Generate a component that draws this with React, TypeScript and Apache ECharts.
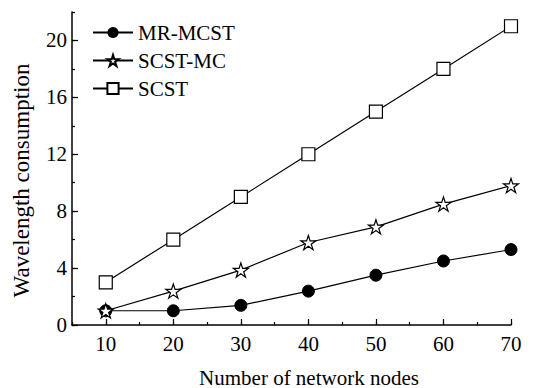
import React, { useEffect, useRef } from "react";
import * as echarts from "echarts";

const xValues = [10, 20, 30, 40, 50, 60, 70];
const mrMcst = [1, 1, 1.38, 2.38, 3.5, 4.5, 5.3];
const scstMc = [1, 2.38, 3.86, 5.8, 6.9, 8.5, 9.8];
const scst = [3, 6, 9, 12, 15, 18, 21];
const xMajorTicks = [10, 20, 30, 40, 50, 60, 70];
const yMajorTicks = [0, 4, 8, 12, 16, 20];

const STAR =
  "path://M50 0 L61.17 34.63 L97.55 34.55 L68.07 55.87 L79.39 90.45 L50 69 L20.61 90.45 L31.93 55.87 L2.45 34.55 L38.83 34.63 Z";

const FONT = "Liberation Serif";

export default function App() {
  const ref = useRef<HTMLDivElement>(null);
  useEffect(() => {
    if (!ref.current) return;
    const chart = echarts.init(ref.current, null, { renderer: "svg" });
    const pair = (arr: number[]) => xValues.map((x, i) => [x, arr[i]]);
    const lineStyle = { color: "#000", width: 1.2 };
    chart.setOption({
      animation: false,
      backgroundColor: "#fff",
      textStyle: { fontFamily: FONT, color: "#000" },
      grid: { left: 72, right: 29, top: 12, bottom: 63, containLabel: false, outerBoundsMode: "none" },
      legend: {
        orient: "vertical",
        left: 87,
        top: 17,
        itemWidth: 40,
        itemHeight: 14,
        itemGap: 7,
        textStyle: { fontFamily: FONT, fontSize: 21, color: "#000" },
        data: ["MR-MCST", "SCST-MC", "SCST"],
      },
      xAxis: [
        {
          type: "value",
          min: 5,
          max: 70,
          interval: 5,
          splitLine: { show: false },
          axisLine: { lineStyle: { color: "#000", width: 1.5 } },
          axisTick: { inside: true, length: 3, lineStyle: { color: "#000", width: 1.2 } },
          axisLabel: {
            margin: 8,
            fontSize: 21,
            fontFamily: FONT,
            color: "#000",
            formatter: (v: number) => (v % 10 === 0 ? String(v) : ""),
          },
          name: "Number of network nodes",
          nameLocation: "middle",
          nameGap: 42,
          nameTextStyle: { fontSize: 21, fontFamily: FONT, color: "#000", padding: [0, 0, 0, 35] },
        },
        {
          type: "value",
          min: 5,
          max: 70,
          position: "bottom",
          splitLine: { show: false },
          axisLine: { show: false },
          axisLabel: { show: false },
          axisTick: {
            show: true,
            inside: true,
            length: 6,
            customValues: xMajorTicks,
            lineStyle: { color: "#000", width: 1.2 },
          },
        },
      ],
      yAxis: [
        {
          type: "value",
          min: 0,
          max: 22,
          interval: 2,
          splitLine: { show: false },
          axisLine: { show: true, lineStyle: { color: "#000", width: 1.5 } },
          axisTick: { show: true, inside: true, length: 3, lineStyle: { color: "#000", width: 1.2 } },
          axisLabel: {
            margin: 5,
            fontSize: 21,
            fontFamily: FONT,
            color: "#000",
            formatter: (v: number) => (v % 4 === 0 ? String(v) : ""),
          },
          name: "Wavelength consumption",
          nameLocation: "middle",
          nameGap: 39,
          nameTextStyle: { fontSize: 23, fontFamily: FONT, color: "#000", padding: [0, 24, 0, 0] },
        },
        {
          type: "value",
          min: 0,
          max: 22,
          position: "left",
          splitLine: { show: false },
          axisLine: { show: false },
          axisLabel: { show: false },
          axisTick: {
            show: true,
            inside: true,
            length: 6,
            customValues: yMajorTicks,
            lineStyle: { color: "#000", width: 1.2 },
          },
        },
      ],
      series: [
        {
          name: "MR-MCST",
          type: "line",
          data: pair(mrMcst),
          symbol: "circle",
          symbolSize: 12,
          lineStyle,
          itemStyle: { color: "#000", borderColor: "#000" },
          z: 2,
        },
        {
          name: "SCST-MC",
          type: "line",
          data: pair(scstMc),
          symbol: STAR,
          symbolSize: 15,
          symbolKeepAspect: true,
          lineStyle,
          itemStyle: { color: "#fff", borderColor: "#000", borderWidth: 1.2 },
          z: 3,
        },
        {
          name: "SCST",
          type: "line",
          data: pair(scst),
          symbol: "rect",
          symbolSize: 13,
          lineStyle,
          itemStyle: { color: "#fff", borderColor: "#000", borderWidth: 1.2 },
          z: 4,
        },
      ],
    });
    return () => chart.dispose();
  }, []);
  return <div ref={ref} style={{ width: 540, height: 388, position: "absolute", left: 0, top: 0 }} />;
}
